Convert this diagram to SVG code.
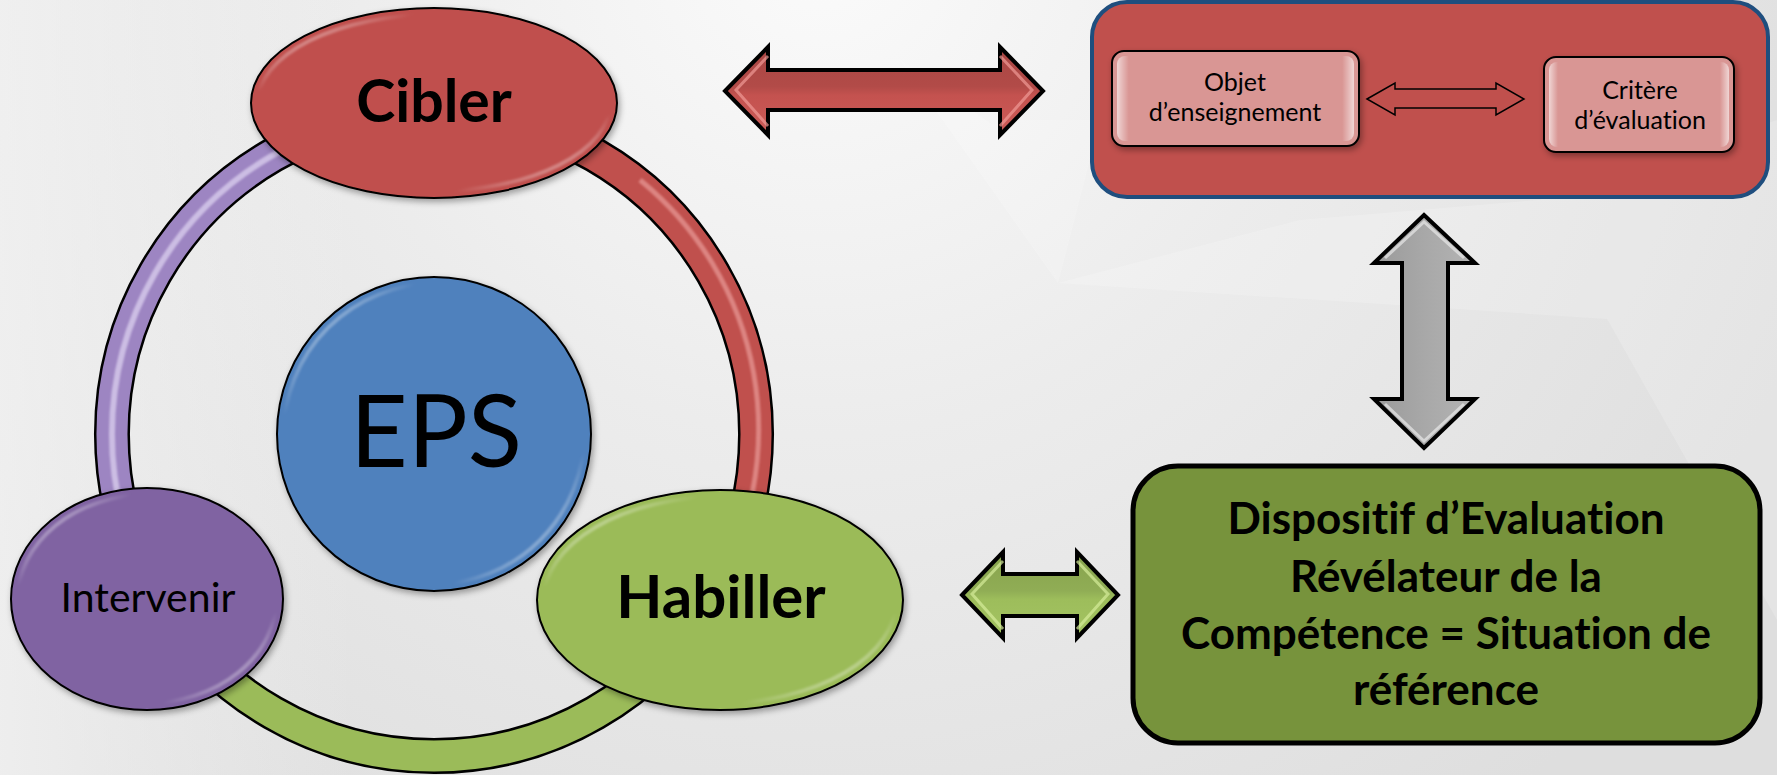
<svg xmlns="http://www.w3.org/2000/svg" width="1777" height="775" viewBox="0 0 1777 775">
<defs>
<style>
.t{font-family:Lato,"Open Sans","Liberation Sans",sans-serif;fill:#000;text-anchor:middle;font-variant-ligatures:none;font-feature-settings:"liga" 0}
.b{font-weight:bold}
.outline{fill:none;stroke:#000;stroke-width:36}
.node{stroke:#000;stroke-width:2}
.arrow{stroke:#000;stroke-width:4;stroke-linejoin:miter}
.hl{fill:none;stroke:url(#hlg);stroke-width:4;filter:url(#blur)}
</style>
<radialGradient id="bg" cx="820" cy="-60" r="1100" gradientUnits="userSpaceOnUse">
<stop offset="0" stop-color="#fbfbfb"/>
<stop offset="0.45" stop-color="#ececec"/>
<stop offset="1" stop-color="#dedede"/>
</radialGradient>
<linearGradient id="bgl" x1="0" y1="0" x2="1" y2="0">
<stop offset="0" stop-color="#f4f4f4" stop-opacity="0.7"/>
<stop offset="0.2" stop-color="#f4f4f4" stop-opacity="0"/>
</linearGradient>
<linearGradient id="hlg" x1="0" y1="0" x2="1" y2="1">
<stop offset="0" stop-color="#fff" stop-opacity="0.9"/>
<stop offset="0.22" stop-color="#fff" stop-opacity="0"/>
<stop offset="0.78" stop-color="#fff" stop-opacity="0"/>
<stop offset="1" stop-color="#fff" stop-opacity="0.9"/>
</linearGradient>
<linearGradient id="redA" x1="0" y1="0" x2="0" y2="1">
<stop offset="0" stop-color="#a94643"/>
<stop offset="0.45" stop-color="#b24b48"/>
<stop offset="0.55" stop-color="#c4524f"/>
<stop offset="1" stop-color="#cb5c58"/>
</linearGradient>
<linearGradient id="greenA" x1="0" y1="0" x2="0" y2="1">
<stop offset="0" stop-color="#86a24c"/>
<stop offset="0.45" stop-color="#90ad55"/>
<stop offset="0.55" stop-color="#9dbd5b"/>
<stop offset="1" stop-color="#a4c463"/>
</linearGradient>
<linearGradient id="grayA" x1="0" y1="0" x2="1" y2="0">
<stop offset="0" stop-color="#9a9a9a"/>
<stop offset="0.5" stop-color="#a8a8a8"/>
<stop offset="1" stop-color="#b4b4b4"/>
</linearGradient>
<linearGradient id="pinkBox" x1="0" y1="0" x2="1" y2="0">
<stop offset="0" stop-color="#fff" stop-opacity="0.6"/>
<stop offset="0.05" stop-color="#fff" stop-opacity="0"/>
<stop offset="0.95" stop-color="#fff" stop-opacity="0"/>
<stop offset="1" stop-color="#fff" stop-opacity="0.6"/>
</linearGradient>
<filter id="blur" x="-10%" y="-10%" width="120%" height="120%"><feGaussianBlur stdDeviation="1.2"/></filter>
<filter id="sh" x="-10%" y="-10%" width="125%" height="125%"><feDropShadow dx="2" dy="3" stdDeviation="3" flood-color="#000" flood-opacity="0.35"/></filter>
</defs>

<rect width="1777" height="775" fill="url(#bg)"/>
<rect width="1777" height="775" fill="url(#bgl)"/>
<g fill="#ffffff" opacity="0.18">
<polygon points="990,120 1100,120 1058,283"/>
<polygon points="900,60 1058,283 1000,130"/>
<polygon points="1058,283 1300,220 1777,180 1777,330"/>
<polygon points="1540,200 1777,120 1777,620"/>
</g>

<g id="connectors">
<path d="M434,112 A322,322 0 0 0 155.1,595" class="outline"/>
<path d="M434,112 A322,322 0 0 0 155.1,595" fill="none" stroke="#9d85c2" stroke-width="31"/>
<path d="M434,112 A322,322 0 0 0 155.1,595" fill="none" stroke="#d8ccec" stroke-width="6" opacity="0.8" filter="url(#blur)"/>
<path d="M434,112 A322,322 0 0 1 712.9,595" class="outline"/>
<path d="M434,112 A322,322 0 0 1 712.9,595" fill="none" stroke="#c0504d" stroke-width="31"/>
<path d="M640,180 A322,322 0 0 1 712.9,595" fill="none" stroke="#f0a8a5" stroke-width="5" opacity="0.6" filter="url(#blur)"/>
<path d="M155.1,595 A322,322 0 0 0 712.9,595" class="outline"/>
<path d="M155.1,595 A322,322 0 0 0 712.9,595" fill="none" stroke="#9bbb59" stroke-width="31"/>

<path class="arrow" fill="url(#redA)" d="M725,91 L768,47 L768,70 L1000,70 L1000,47 L1043,91 L1000,135 L1000,110 L768,110 L768,135 Z"/>
<path d="M768,56 L736,90 L768,126" fill="none" stroke="#f09a96" stroke-width="3" opacity="0.7"/>
<path d="M1000,56 L1032,90 L1000,126" fill="none" stroke="#f09a96" stroke-width="3" opacity="0.7"/>

<path class="arrow" fill="url(#greenA)" d="M962,595 L1003,552 L1003,574 L1077,574 L1077,552 L1118,595 L1077,638 L1077,616 L1003,616 L1003,638 Z"/>
<path d="M1003,561 L972,594 L1003,629" fill="none" stroke="#d6ec9a" stroke-width="3" opacity="0.7"/>
<path d="M1077,561 L1108,594 L1077,629" fill="none" stroke="#d6ec9a" stroke-width="3" opacity="0.7"/>

<path class="arrow" fill="url(#grayA)" d="M1424,215 L1475,263 L1448,263 L1448,399 L1475,399 L1424,448 L1374,399 L1402,399 L1402,263 L1374,263 Z"/>
<path d="M1385,258 L1424,222 L1464,258" fill="none" stroke="#e8e8e8" stroke-width="3" opacity="0.7"/>
<path d="M1385,404 L1424,441 L1464,404" fill="none" stroke="#e8e8e8" stroke-width="3" opacity="0.7"/>
</g>

<g id="node-eps">
<circle cx="434" cy="434" r="157" fill="#4f81bd" class="node" filter="url(#sh)"/>
<circle cx="434" cy="434" r="150" class="hl"/>
<text x="436" y="467" class="t" font-size="100">EPS</text>
</g>

<g id="node-cibler">
<ellipse cx="434" cy="103" rx="183" ry="95" fill="#c0504d" class="node" filter="url(#sh)"/>
<ellipse cx="434" cy="103" rx="176" ry="88" class="hl"/>
<text x="434" y="122" class="t b" font-size="59">Cibler</text>
</g>

<g id="node-intervenir">
<ellipse cx="147" cy="599" rx="136" ry="111" fill="#8064a2" class="node" filter="url(#sh)"/>
<ellipse cx="147" cy="599" rx="129" ry="104" class="hl"/>
<text x="148" y="612" class="t" font-size="41">Intervenir</text>
</g>

<g id="node-habiller">
<ellipse cx="720" cy="600" rx="183" ry="110" fill="#9bbb59" class="node" filter="url(#sh)"/>
<ellipse cx="720" cy="600" rx="176" ry="103" class="hl"/>
<text x="721" y="618" class="t b" font-size="60">Habiller</text>
</g>

<g id="node-cible-box">
<rect x="1092" y="2" width="676" height="195" rx="35" fill="#c0504d" stroke="#1f4e7e" stroke-width="4"/>
</g>

<g id="node-objet">
<rect x="1112" y="51" width="247" height="95" rx="12" fill="#d99694" stroke="#000" stroke-width="2" filter="url(#sh)"/>
<rect x="1117" y="56" width="237" height="85" rx="8" fill="url(#pinkBox)"/>
<text class="t" font-size="25"><tspan x="1235" y="91">Objet</tspan><tspan x="1235" y="121">d’enseignement</tspan></text>
</g>

<g id="node-critere">
<rect x="1544" y="57" width="190" height="95" rx="12" fill="#d99694" stroke="#000" stroke-width="2" filter="url(#sh)"/>
<rect x="1549" y="62" width="180" height="85" rx="8" fill="url(#pinkBox)"/>
<text class="t" font-size="25"><tspan x="1640" y="99">Critère</tspan><tspan x="1640" y="129">d’évaluation</tspan></text>
</g>

<g id="connector-inner">
<path d="M1367,99 L1395,83 L1395,89 L1496,89 L1496,83 L1524,99 L1496,115 L1496,108 L1395,108 L1395,115 Z" fill="#c0504d" stroke="#000" stroke-width="1.5"/>
</g>

<g id="node-dispositif">
<rect x="1133" y="466" width="627" height="277" rx="45" fill="#77933c" stroke="#000" stroke-width="5"/>
<text class="t b" font-size="44"><tspan x="1446" y="534">Dispositif d’Evaluation</tspan><tspan x="1446" y="592">Révélateur de la</tspan><tspan x="1446" y="649">Compétence = Situation de</tspan><tspan x="1446" y="705">référence</tspan></text>
</g>
</svg>
